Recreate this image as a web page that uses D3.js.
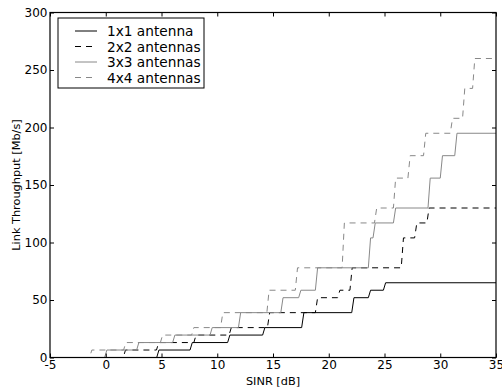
<!DOCTYPE html>
<html>
<head>
<meta charset="utf-8">
<script src="https://cdn.jsdelivr.net/npm/d3@7"></script>
<style>
  html, body { margin: 0; padding: 0; background: #fff; }
  svg { display: block; font-family: "DejaVu Sans", sans-serif; }
</style>
</head>
<body>
<div id="chart"></div>
<script>
// SINR thresholds (dB) where each curve steps up, and the rate reached (Mb/s)
const steps1x1 = [4.57, 7.56, 10.93, 14.07, 17.57, 22.06, 23.55, 24.9];
const rates1x1 = [6.5, 13, 19.5, 26, 39, 52, 58.5, 65];

const steps2x2 = [1.57, 4.55, 7.9, 11.06, 14.5, 18.8, 20.8, 21.9, 26.5, 27.7, 28.8];
const rates2x2 = [6.5, 13, 19.5, 26, 39, 52, 58.5, 78, 104, 117, 130];

const steps3x3 = [-0.1, 2.77, 6.0, 9.35, 11.9, 15.7, 17.3, 18.8, 23.55, 23.97, 25.8, 28.9, 30.0, 31.3];
const rates3x3 = [6.5, 13, 19.5, 26, 39, 52, 58.5, 78, 104, 117, 130, 156, 175.5, 195];

const steps4x4 = [-1.45, 1.6, 4.9, 7.7, 10.3, 14.45, 17.0, 21.2, 24.1, 25.8, 27.1, 28.5, 30.9, 32.0, 32.9];
const rates4x4 = [6.5, 13, 19.5, 26, 39, 58.5, 78, 117, 130, 156, 175.5, 195, 208, 234, 260];

const seriesNames = ['1x1 antenna', '2x2 antennas', '3x3 antennas', '4x4 antennas'];
const xTicks = [-5, 0, 5, 10, 15, 20, 25, 30, 35];
const yTicks = [0, 50, 100, 150, 200, 250, 300];

const series = [
  { name: seriesNames[0], steps: steps1x1, rates: rates1x1, color: '#000', dash: null },
  { name: seriesNames[1], steps: steps2x2, rates: rates2x2, color: '#000', dash: '6,5' },
  { name: seriesNames[2], steps: steps3x3, rates: rates3x3, color: '#888', dash: null },
  { name: seriesNames[3], steps: steps4x4, rates: rates4x4, color: '#888', dash: '6,5' }
];

const width = 502, height = 389;
const margin = { top: 12.5, right: 6, bottom: 31.5, left: 50 };
const w = width - margin.left - margin.right;
const h = height - margin.top - margin.bottom;
const riser = 0.2; // the steps are drawn with a slightly slanted riser

const svg = d3.select('#chart')
  .append('svg')
  .attr('width', width)
  .attr('height', height);

const g = svg.append('g')
  .attr('transform', `translate(${margin.left},${margin.top})`);

const x = d3.scaleLinear().domain([-5, 35]).range([0, w]);
const y = d3.scaleLinear().domain([0, 300]).range([h, 0]);

g.append('clipPath').attr('id', 'plot-clip')
  .append('rect').attr('width', w).attr('height', h);

// turn the thresholds into points of a step line
function stepPoints(s) {
  const pts = [[-5, 0]];
  let prev = 0;
  s.steps.forEach((t, i) => {
    pts.push([t, prev]);
    pts.push([t + riser, s.rates[i]]);
    prev = s.rates[i];
  });
  pts.push([35, prev]);
  return pts;
}

const line = d3.line()
  .x(d => x(d[0]))
  .y(d => y(d[1]));

g.append('g')
  .attr('clip-path', 'url(#plot-clip)')
  .selectAll('path')
  .data(series)
  .enter().append('path')
  .attr('d', d => line(stepPoints(d)))
  .attr('fill', 'none')
  .attr('stroke', d => d.color)
  .attr('stroke-width', 1)
  .attr('stroke-dasharray', d => d.dash);

// axes, matplotlib style: ticks inside on all four sides
const tickLen = 4;
const fmt = d => String(d); // plain hyphen for negatives, like the original
const axisBottom = d3.axisBottom(x).tickValues(xTicks).tickFormat(fmt).tickSizeInner(-tickLen).tickSizeOuter(0).tickPadding(3);
const axisLeft = d3.axisLeft(y).tickValues(yTicks).tickFormat(fmt).tickSizeInner(-tickLen).tickSizeOuter(0).tickPadding(2.5);
const axisTop = d3.axisTop(x).tickValues(xTicks).tickSizeInner(-tickLen).tickSizeOuter(0).tickFormat('');
const axisRight = d3.axisRight(y).tickValues(yTicks).tickSizeInner(-tickLen).tickSizeOuter(0).tickFormat('');

g.append('g').attr('transform', `translate(0,${h})`).call(axisBottom);
g.append('g').call(axisLeft);
g.append('g').call(axisTop);
g.append('g').attr('transform', `translate(${w},0)`).call(axisRight);

g.selectAll('.domain').remove();
g.selectAll('.tick line').attr('stroke', '#000').attr('stroke-width', 1);
g.selectAll('.tick text')
  .attr('fill', '#000')
  .style('font-size', '12px')
  .style('font-family', '"DejaVu Sans", sans-serif');

g.append('rect')
  .attr('width', w)
  .attr('height', h)
  .attr('fill', 'none')
  .attr('stroke', '#000')
  .attr('stroke-width', 1.2);

// axis labels
svg.append('text')
  .attr('x', margin.left + w / 2)
  .attr('y', 385)
  .attr('text-anchor', 'middle')
  .style('font-size', '11.3px')
  .text('SINR [dB]');

svg.append('text')
  .attr('transform', `translate(19.5,${margin.top + h / 2}) rotate(-90)`)
  .attr('text-anchor', 'middle')
  .style('font-size', '11.3px')
  .text('Link Throughput [Mb/s]');

// legend
const legend = svg.append('g').attr('transform', 'translate(58,18)');
legend.append('rect')
  .attr('width', 146)
  .attr('height', 70)
  .attr('fill', '#fff')
  .attr('stroke', '#000')
  .attr('stroke-width', 1);

const items = legend.selectAll('.item')
  .data(series)
  .enter().append('g')
  .attr('transform', (d, i) => `translate(0,${13 + i * 15.5})`);

items.append('line')
  .attr('x1', 17).attr('x2', 39)
  .attr('stroke', d => d.color)
  .attr('stroke-width', 1)
  .attr('stroke-dasharray', d => d.dash);

items.append('text')
  .attr('x', 49)
  .attr('y', 5)
  .style('font-size', '13.7px')
  .text(d => d.name);
</script>
</body>
</html>
